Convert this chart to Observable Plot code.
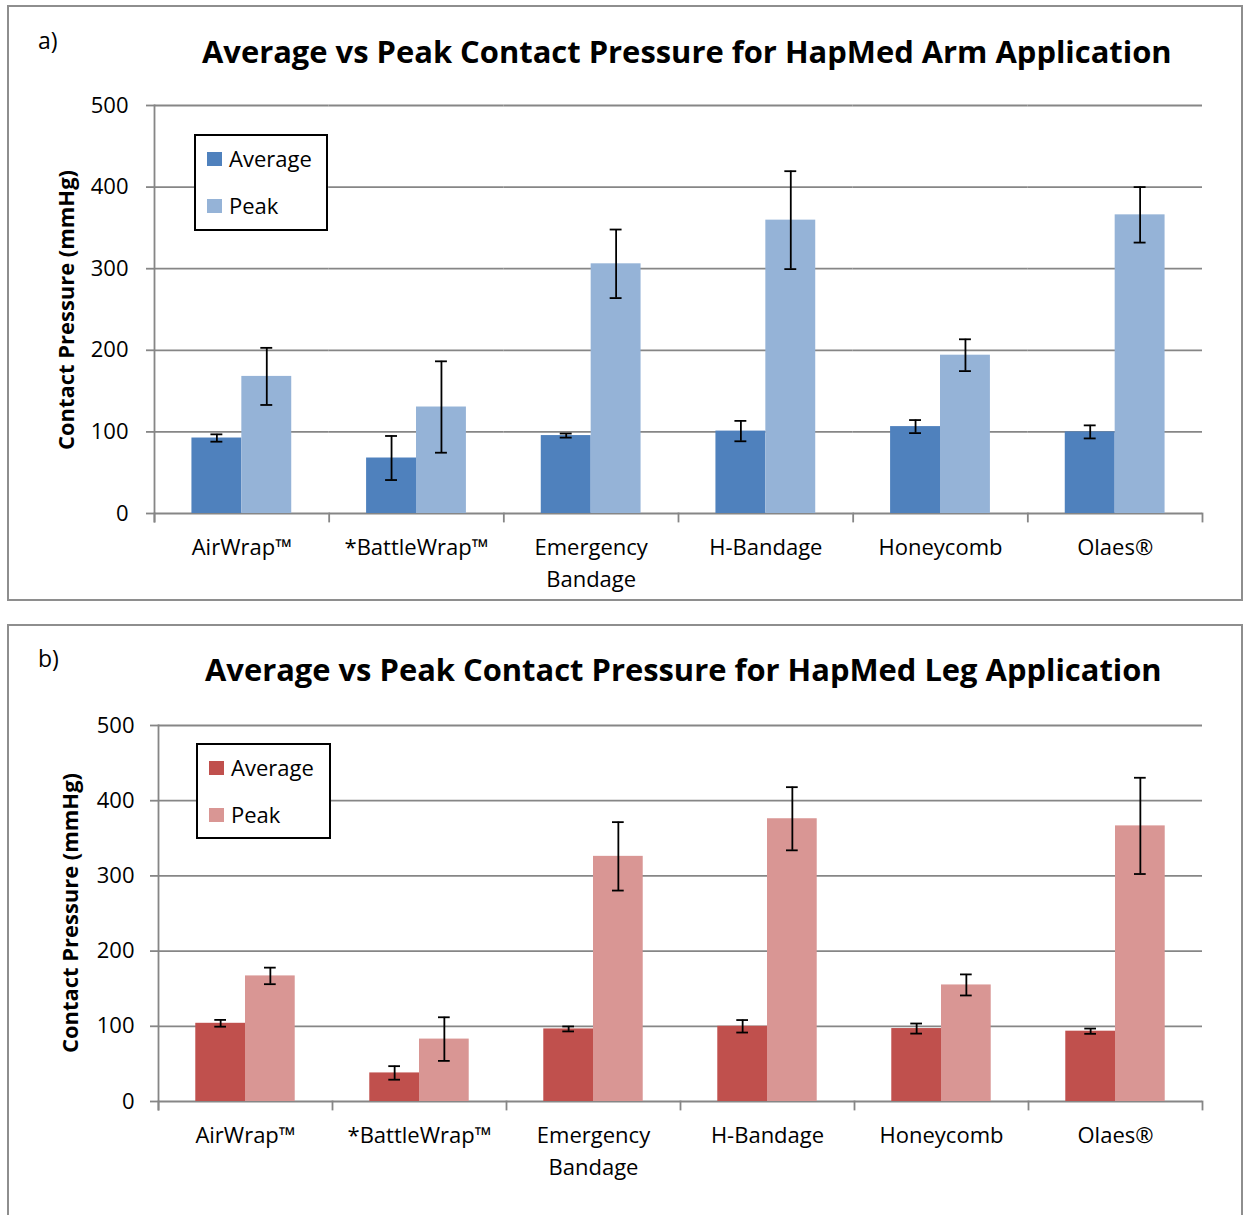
<!DOCTYPE html>
<html><head><meta charset="utf-8">
<script src="https://cdn.jsdelivr.net/npm/d3@7"></script>
<script src="https://cdn.jsdelivr.net/npm/@observablehq/plot@0.6"></script>
<style>
body{margin:0;background:#fff;font-family:"Open Sans",sans-serif;color:#000;}
#page{position:relative;width:1244px;height:1215px;overflow:hidden;background:#fff;}
.panel{position:absolute;border:2px solid #8e8e8e;box-sizing:border-box;background:#fff;}
.abs{position:absolute;white-space:nowrap;line-height:1;}
.svgwrap{position:absolute;left:0;}
.legend{position:absolute;border:2px solid #000;box-sizing:border-box;background:#fff;}
.sw{position:absolute;width:15px;height:14px;}
.lt{position:absolute;font-size:22px;line-height:1;transform:translateY(-50%);white-space:nowrap;}
</style></head>
<body>
<div id="page"></div>
<script>
// ---- data ----
const categories = ["AirWrap™", "*BattleWrap™", "Emergency\nBandage", "H-Bandage", "Honeycomb", "Olaes®"];
const seriesNames = ["Average", "Peak"];
const yTicks = [0, 100, 200, 300, 400, 500];

const armAverage    = [92.5, 68, 95.5, 101, 106.5, 100];
const armAverageErr = [4.5, 27, 2.5, 12.5, 8, 8];
const armPeak       = [168, 130.5, 306, 359.5, 194, 366];
const armPeakErr    = [35, 56, 42, 60, 19.5, 34];

const legAverage    = [104, 38, 96.5, 100, 97, 93.5];
const legAverageErr = [4.5, 9, 3.3, 8.3, 6.7, 3.5];
const legPeak       = [167, 83, 326, 376, 155, 366.5];
const legPeakErr    = [11, 29, 45.5, 42, 14, 64];

const armTitle = "Average vs Peak Contact Pressure for HapMed Arm Application";
const legTitle = "Average vs Peak Contact Pressure for HapMed Leg Application";
const yLabel = "Contact Pressure (mmHg)";

// ---- styles ----
const armColors = ["#4F81BD", "#95B3D7"];
const legColors = ["#C0504D", "#D99694"];
const gridColor = "#868686";

const page = document.getElementById("page");

function el(tag, cls, style, text) {
  const e = document.createElement(tag);
  if (cls) e.className = cls;
  Object.assign(e.style, style || {});
  if (text != null) e.textContent = text;
  return e;
}

function fitWidth(e, target) {
  const w = e.getBoundingClientRect().width;
  const fs = parseFloat(getComputedStyle(e).fontSize);
  e.style.fontSize = (fs * target / w) + "px";
}

function makeChart(cfg) {
  const rows = categories.flatMap((c, i) => [
    {cat: c, series: seriesNames[0], value: cfg.avg[i], err: cfg.avgErr[i]},
    {cat: c, series: seriesNames[1], value: cfg.peak[i], err: cfg.peakErr[i]}
  ]);
  const plotH = cfg.height - cfg.marginTop - cfg.marginBottom;
  const chart = Plot.plot({
    width: 1244,
    height: cfg.height,
    marginLeft: cfg.marginLeft,
    marginRight: cfg.marginRight,
    marginTop: cfg.marginTop,
    marginBottom: cfg.marginBottom,
    style: {background: "transparent", fontFamily: "'Open Sans', sans-serif", overflow: "visible", color: "#000"},
    fx: {domain: categories, paddingInner: 0, paddingOuter: 0, round: false, axis: null},
    x: {domain: seriesNames, paddingInner: 0, paddingOuter: 0.75, round: false, axis: null},
    y: {domain: [0, 500], axis: null},
    color: {domain: seriesNames, range: cfg.colors},
    marks: [
      Plot.ruleY(yTicks, {stroke: gridColor, strokeWidth: 1.8}),
      Plot.barY(rows, {fx: "cat", x: "series", y: "value", fill: "series"}),
      Plot.ruleX(rows, {fx: "cat", x: "series", y1: d => d.value - d.err, y2: d => d.value + d.err, stroke: "#000", strokeWidth: 1.8}),
      Plot.tickY(rows, {fx: "cat", x: "series", y: d => d.value - d.err, insetLeft: 19, insetRight: 19, stroke: "#000", strokeWidth: 1.8}),
      Plot.tickY(rows, {fx: "cat", x: "series", y: d => d.value + d.err, insetLeft: 19, insetRight: 19, stroke: "#000", strokeWidth: 1.8}),
      Plot.frame({anchor: "left", facetAnchor: "left", stroke: gridColor, strokeWidth: 1.8, insetBottom: -8}),
      Plot.frame({anchor: "left", stroke: gridColor, strokeWidth: 1.8, insetTop: plotH, insetBottom: -8}),
      Plot.frame({anchor: "right", facetAnchor: "right", stroke: gridColor, strokeWidth: 1.8, insetTop: plotH, insetBottom: -8}),
      Plot.axisY({ticks: yTicks, tickSize: 8, tickPadding: cfg.tickPadding, fontSize: 22, stroke: gridColor, strokeWidth: 1.8, fill: "#000", label: null}),
      Plot.text(categories, {fx: d => d, text: d => d, frameAnchor: "bottom", lineAnchor: "top", dy: 19, fontSize: 22, lineHeight: 1.45, fill: "#000"})
    ]
  });
  const wrap = el("div", "svgwrap", {top: cfg.top + "px"});
  wrap.appendChild(chart);
  page.appendChild(wrap);
}

function addPanel(cfg) {
  page.appendChild(el("div", "panel", {left: cfg.panel[0] + "px", top: cfg.panel[1] + "px", width: cfg.panel[2] + "px", height: cfg.panel[3] + "px"}));
}

function addTexts(cfg) {
  const letter = el("div", "abs", {left: cfg.letter[0] + "px", top: cfg.letter[1] + "px", fontSize: "23px", transform: "translateY(-50%)"}, cfg.letterText);
  page.appendChild(letter);
  const title = el("div", "abs", {left: cfg.title[0] + "px", top: cfg.title[1] + "px", fontSize: "30px", fontWeight: "bold", transform: "translateY(-50%)"}, cfg.titleText);
  page.appendChild(title);
  fitWidth(title, cfg.title[2]);
  const yl = el("div", "abs", {left: cfg.ylab[0] + "px", top: cfg.ylab[1] + "px", fontSize: "22px", fontWeight: "bold"}, yLabel);
  page.appendChild(yl);
  fitWidth(yl, cfg.ylab[2]);
  yl.style.transform = "translate(-50%,-50%) rotate(-90deg)";
  const lg = el("div", "legend", {left: cfg.legend[0] + "px", top: cfg.legend[1] + "px", width: cfg.legend[2] + "px", height: cfg.legend[3] + "px"});
  seriesNames.forEach((s, i) => {
    const cy = i === 0 ? 23 : 70;
    lg.appendChild(el("div", "sw", {left: "11px", top: (cy - 7) + "px", background: cfg.colors[i]}));
    lg.appendChild(el("div", "lt", {left: "33px", top: (cy - 1) + "px"}, s));
  });
  page.appendChild(lg);
}

// ---- panel a ----
addPanel({panel: [7, 5, 1236, 596]});
makeChart({top: 0, height: 600, marginTop: 105, marginBottom: 87, marginLeft: 154, marginRight: 42, tickPadding: 18,
  avg: armAverage, avgErr: armAverageErr, peak: armPeak, peakErr: armPeakErr, colors: armColors});
addTexts({letter: [38, 40], letterText: "a)", title: [202, 51, 970], titleText: armTitle, ylab: [66, 310, 280],
  legend: [194, 134, 134, 97], colors: armColors});

// ---- panel b ----
addPanel({panel: [7, 624, 1236, 700]});
makeChart({top: 600, height: 600, marginTop: 125, marginBottom: 99, marginLeft: 158, marginRight: 42, tickPadding: 16,
  avg: legAverage, avgErr: legAverageErr, peak: legPeak, peakErr: legPeakErr, colors: legColors});
addTexts({letter: [38, 658], letterText: "b)", title: [205, 669, 957], titleText: legTitle, ylab: [70, 913, 280],
  legend: [196, 743, 135, 96], colors: legColors});
</script>
</body></html>
